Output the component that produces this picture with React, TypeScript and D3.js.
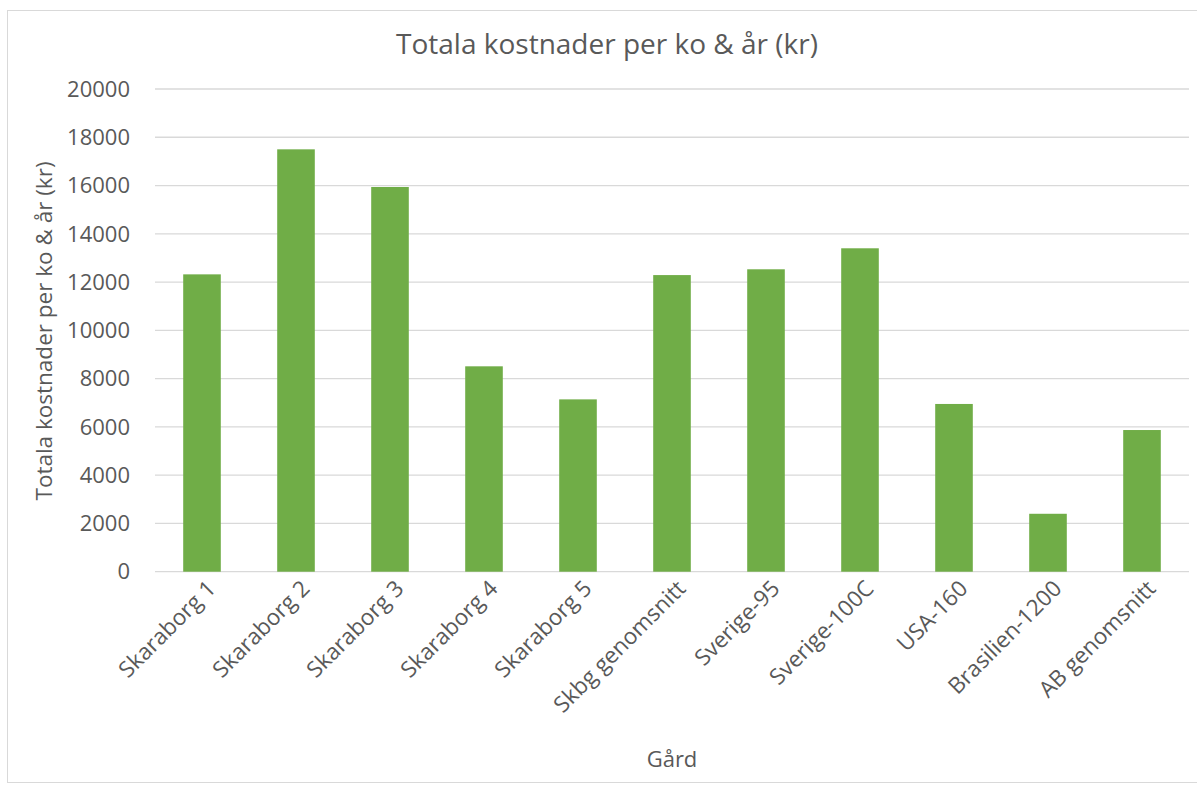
import React from "react";
import * as d3 from "d3";

const categories = [
  "Skaraborg 1",
  "Skaraborg 2",
  "Skaraborg 3",
  "Skaraborg 4",
  "Skaraborg 5",
  "Skbg genomsnitt",
  "Sverige-95",
  "Sverige-100C",
  "USA-160",
  "Brasilien-1200",
  "AB genomsnitt",
];
const values = [12320, 17500, 15940, 8510, 7140, 12290, 12530, 13400, 6950, 2400, 5870];
const yTicks = [0, 2000, 4000, 6000, 8000, 10000, 12000, 14000, 16000, 18000, 20000];
const title = "Totala kostnader per ko & år (kr)";
const yTitle = "Totala kostnader per ko & år (kr)";
const xTitle = "Gård";

const W = 1197;
const H = 787;
const FONT = "'Open Sans', 'Noto Sans', sans-serif";
const TEXT = "#595959";
const GRID = "#D9D9D9";
const BAR = "#70AD47";

export default function App() {
  const x = d3
    .scaleBand<string>()
    .domain(categories)
    .range([155, 1189])
    .paddingInner(0.6)
    .paddingOuter(0.3);
  const y = d3.scaleLinear().domain([0, 20000]).range([571.7, 89]);

  return (
    <svg
      width={W}
      height={H}
      style={{ position: "absolute", left: 0, top: 0, background: "#fff" }}
      fontFamily={FONT}
    >
      <rect x={7.5} y={10.5} width={1200} height={772} fill="#fff" stroke={GRID} strokeWidth={1} />
      <text x={607} y={54} textAnchor="middle" fontSize={28} fill={TEXT}>
        {title}
      </text>
      {yTicks.map((t) => (
        <g key={t}>
          <line x1={155} x2={1189} y1={y(t)} y2={y(t)} stroke={GRID} strokeWidth={1.3} />
          <text x={130} y={y(t)} dy="0.35em" textAnchor="end" fontSize={22} fill={TEXT}>
            {t}
          </text>
        </g>
      ))}
      {categories.map((c, i) => (
        <rect
          key={c}
          x={x(c)}
          y={y(values[i])}
          width={x.bandwidth()}
          height={y(0) - y(values[i])}
          fill={BAR}
        />
      ))}
      {categories.map((c) => {
        const cx = (x(c) as number) + x.bandwidth() / 2 + 15;
        const cy = 590;
        return (
          <text
            key={c}
            x={cx}
            y={cy}
            textAnchor="end"
            fontSize={22.5}
            fill={TEXT}
            transform={`rotate(-45 ${cx} ${cy})`}
          >
            {c}
          </text>
        );
      })}
      <text
        x={0}
        y={0}
        transform={`translate(52 331) rotate(-90)`}
        textAnchor="middle"
        fontSize={22.5}
        fill={TEXT}
      >
        {yTitle}
      </text>
      <text x={672} y={767} textAnchor="middle" fontSize={22} fill={TEXT}>
        {xTitle}
      </text>
    </svg>
  );
}
